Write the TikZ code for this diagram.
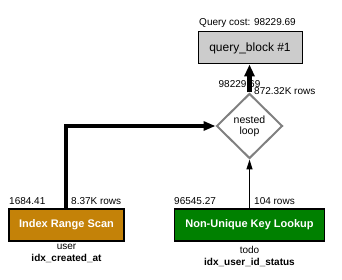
\documentclass[tikz,border=0pt]{standalone}
\usepackage{fontspec}
\setmainfont{Liberation Sans}
\definecolor{scanorange}{RGB}{196,130,8}
\definecolor{lookupgreen}{RGB}{0,128,0}
\definecolor{blockgray}{RGB}{204,204,204}
\definecolor{loopgray}{RGB}{128,128,128}
\usetikzlibrary{shapes,arrows.meta,positioning,calc}

\begin{document}
\begin{tikzpicture}[x=1pt,y=-1pt,
    every node/.style={inner sep=0pt, font=\fontsize{10}{11}\selectfont},
    opbox/.style={draw=black, line width=1.5pt, minimum height=32pt,
        text=white, font=\fontsize{11}{13}\selectfont\bfseries},
    costlbl/.style={anchor=west},
    tablelbl/.style={align=center, font=\fontsize{10}{12}\selectfont},
    thickflow/.style={line width=4pt, line join=miter, -{Triangle[length=12pt,width=9pt]}},
    thinflow/.style={line width=1.5pt, -{Triangle[length=10pt,width=6pt]}}]
    \useasboundingbox (0,0) rectangle (342,280);

    % query block and its cost
    \node[draw=black, line width=1pt, fill=blockgray, minimum width=104pt, minimum height=32pt,
          font=\fontsize{12}{14}\selectfont] (qblock) at (250,48) {query\_block \#1};
    \node (qcost) at (247.5,23) {Query cost: 98229.69};

    % join
    \node[diamond, draw=loopgray, line width=2pt, minimum width=66pt, minimum height=65pt,
          align=center, font=\fontsize{10.5}{11}\selectfont] (loop) at (249.5,126) {nested\\loop};

    % access paths
    \node[opbox, fill=scanorange, minimum width=115pt] (scan) at (66.5,225) {Index Range Scan};
    \node[opbox, fill=lookupgreen, minimum width=150pt] (lookup) at (249.5,225) {Non-Unique Key Lookup};

    % costs and rows
    \node[costlbl] (scancost) at (9,201) {1684.41};
    \node[costlbl] (scanrows) at (71,201) {8.37K rows};
    \node[costlbl] (lookupcost) at (174,201) {96545.27};
    \node[costlbl] (lookuprows) at (254,201) {104 rows};
    \node (loopcost) at (239.5,84) {98229.69};
    \node[costlbl] (looprows) at (254,91) {872.32K rows};

    % tables and indexes
    \node[tablelbl] (scantable) at (66.5,253) {user\\\textbf{idx\_created\_at}};
    \node[tablelbl] (lookuptable) at (249.5,256.5) {todo\\\textbf{idx\_user\_id\_status}};

    % connectors
    \draw[thickflow] (scan.north -| 66,0) |- (loop.west);
    \draw[thinflow] (lookup.north) -- (loop.south);
    \draw[line width=4.5pt, -{Triangle[length=12pt,width=10pt]}] (loop.north) -- (loop.north |- qblock.south);
\end{tikzpicture}
\end{document}
